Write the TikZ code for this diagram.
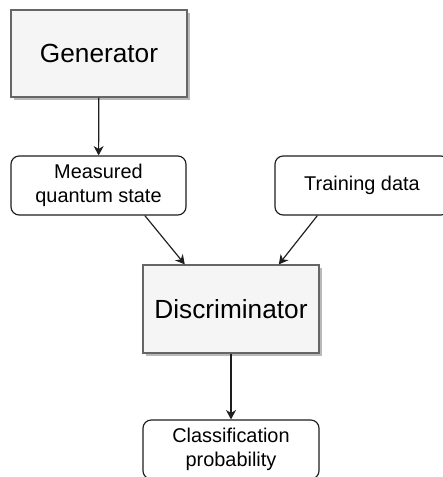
\documentclass[tikz,border=0pt]{standalone}
\usepackage{fontspec}
\setmainfont{Liberation Sans}
\usepackage{tikz}
\usetikzlibrary{arrows.meta,shadows}
\definecolor{boxFill}{RGB}{245,245,245}
\definecolor{boxLine}{RGB}{102,102,102}
\definecolor{shadowGray}{RGB}{185,185,185}
\definecolor{lineBlack}{RGB}{30,30,30}

\begin{document}
\begin{tikzpicture}[
		mainbox/.style={rectangle,draw=boxLine,fill=boxFill,line width=1pt,
			minimum width=5.28cm,minimum height=2.61cm,inner sep=0pt,
			font=\fontsize{22.4}{27}\selectfont,
			drop shadow={shadow xshift=2.6pt,shadow yshift=-2.6pt,fill=shadowGray,opacity=1}},
		databox/.style={rectangle,rounded corners=7pt,draw=lineBlack,fill=white,line width=1pt,
			minimum width=5.25cm,minimum height=1.77cm,inner sep=0pt,align=center,
			font=\fontsize{17}{20.5}\selectfont}]
		% Frame
		\useasboundingbox (0,0) rectangle (13.29,-14.31);
		\clip (0,0) rectangle (13.29,-14.31);
		
		% Main blocks
		\node (gen) at (2.97,-1.605) [mainbox] {Generator};
		\node (disc) at (6.93,-9.27) [mainbox,minimum height=2.64cm] {Discriminator};
		
		% Data
		\node (meas) at (2.955,-5.565) [databox] {Measured\\quantum state};
		\node (train) at (10.86,-5.565) [databox,minimum width=5.22cm] {Training data};
		\node (class) at (6.93,-13.485) [databox,minimum width=5.28cm] {Classification\\probability};
		
		% Arrows
		\begin{scope}[every edge/.style={draw=lineBlack,line width=1pt},
			>={Stealth[length=8pt,width=8.5pt,inset=2.5pt]}]
			\path [->] (gen) edge (meas);
			\path [->] (meas.-33.5) edge (disc.136.3);
			\path [->] (train.-146.2) edge (disc.43.7);
			\path [->] (disc) edge (class);
		\end{scope}
	\end{tikzpicture}
\end{document}
